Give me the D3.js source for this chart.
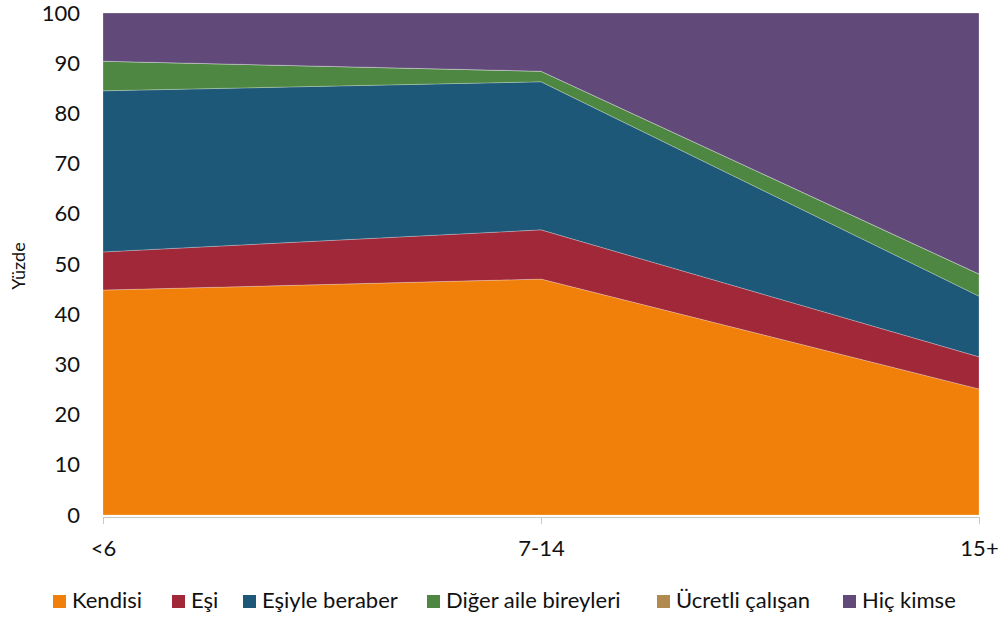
<!DOCTYPE html>
<html>
<head>
<meta charset="utf-8">
<script src="https://cdn.jsdelivr.net/npm/d3@7"></script>
<style>
  body { margin: 0; background: #fff; }
  text { font-family: Lato, "Open Sans", sans-serif; fill: #111; }
</style>
</head>
<body>
<svg id="svg"></svg>
<script>
// categories and series values (percent)
const ageGroups = ['<6', '7-14', '15+'];
const seriesNames = ['Kendisi', 'Eşi', 'Eşiyle beraber', 'Diğer aile bireyleri', 'Ücretli çalışan', 'Hiç kimse'];
const kendisi = [44.8, 47.0, 25.1];
const esi = [7.6, 9.8, 6.4];
const esiyleBeraber = [32.1, 29.5, 12.1];
const digerAile = [5.9, 2.1, 4.4];
const ucretli = [0, 0, 0];
const hicKimse = [9.6, 11.6, 52.0];
const yTicks = [0, 10, 20, 30, 40, 50, 60, 70, 80, 90, 100];
const colors = ['#f0800a', '#a12838', '#1e5879', '#4e8741', '#b08a4f', '#614a79'];

const svg = d3.select('#svg').attr('width', 1005).attr('height', 619);
const margin = { left: 103, right: 26, top: 13, bottom: 104 };
const width = 1005 - margin.left - margin.right;
const height = 619 - margin.top - margin.bottom;

const rows = ageGroups.map((g, i) => ({
	group: g,
	'Kendisi': kendisi[i],
	'Eşi': esi[i],
	'Eşiyle beraber': esiyleBeraber[i],
	'Diğer aile bireyleri': digerAile[i],
	'Ücretli çalışan': ucretli[i],
	'Hiç kimse': hicKimse[i]
}));

const stacked = d3.stack().keys(seriesNames)(rows);

const x = d3.scalePoint().domain(ageGroups).range([0, width]);
const y = d3.scaleLinear().domain([0, 100]).range([height, 0]);

const g = svg.append('g').attr('transform', `translate(${margin.left},${margin.top})`);

const area = d3.area()
	.x(d => x(d.data.group))
	.y0(d => y(d[0]))
	.y1(d => y(d[1]));

// stacked areas
g.selectAll('path.layer')
	.data(stacked)
	.enter()
	.append('path')
		.attr('class', 'layer')
		.attr('d', area)
		.attr('fill', (d, i) => colors[i])
		.attr('stroke', 'rgba(255,255,255,0.3)')
		.attr('stroke-width', 0.8);

// y axis (labels only)
const yAxis = g.append('g')
	.call(d3.axisLeft(y).tickValues(yTicks).tickSize(0).tickPadding(23));
yAxis.select('.domain').remove();
yAxis.selectAll('text').attr('font-size', 22);

// x axis
const xAxis = g.append('g')
	.attr('transform', `translate(0,${height + 2})`)
	.call(d3.axisBottom(x).tickSize(7).tickSizeOuter(0).tickPadding(16));
xAxis.select('.domain').attr('stroke', '#c8c8c8');
xAxis.selectAll('.tick line').attr('stroke', '#c8c8c8');
xAxis.selectAll('text').attr('font-size', 22);

// y axis title
svg.append('text')
	.attr('transform', 'translate(25,266) rotate(-90)')
	.attr('text-anchor', 'middle')
	.attr('font-size', 18)
	.text('Yüzde');

// legend
const legendX = [53, 172, 243, 427, 657, 843];
const legend = svg.selectAll('g.legend')
	.data(seriesNames)
	.enter()
	.append('g')
		.attr('class', 'legend')
		.attr('transform', (d, i) => `translate(${legendX[i]},595)`);
legend.append('rect')
	.attr('width', 13)
	.attr('height', 13)
	.attr('fill', (d, i) => colors[i]);
legend.append('text')
	.attr('x', 19)
	.attr('y', 13)
	.attr('font-size', 22)
	.text(d => d);
</script>
</body>
</html>
